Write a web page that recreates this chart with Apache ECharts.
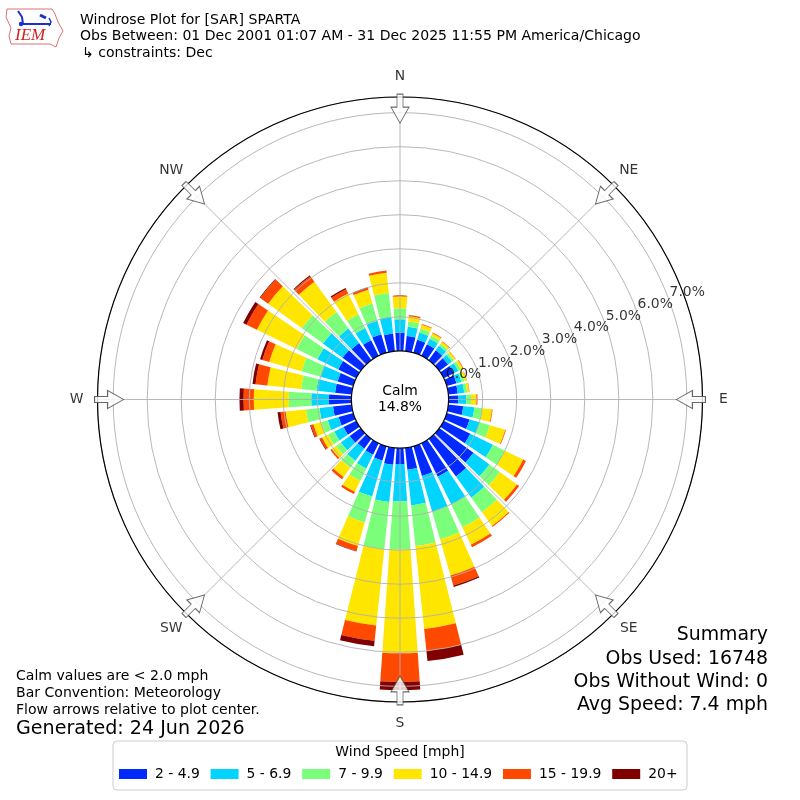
<!DOCTYPE html>
<html><head><meta charset="utf-8">
<script src="https://cdn.jsdelivr.net/npm/echarts@6/dist/echarts.min.js"></script>
<style>html,body{margin:0;padding:0;background:#fff}#c{width:800px;height:800px}</style>
</head><body><div id="c"></div>
<script>
// ---------- data ----------
const directions = [0,10,20,30,40,50,60,70,80,90,100,110,120,130,140,150,160,170,180,190,200,210,220,230,240,250,260,270,280,290,300,310,320,330,340,350];
const speedBins = ['2 - 4.9','5 - 6.9','7 - 9.9','10 - 14.9','15 - 19.9','20+'];
const speedColors = ['#002aff','#00d4ff','#7bff7b','#ffe600','#ff4800','#800000'];
const pct2to5   = [0.54,0.45,0.40,0.38,0.36,0.32,0.33,0.30,0.28,0.28,0.44,0.70,0.87,1.24,1.37,1.10,0.91,0.65,0.47,0.50,0.44,0.38,0.36,0.40,0.42,0.45,0.55,0.66,0.49,0.48,0.59,0.66,0.62,0.51,0.57,0.52];
const pct5to7   = [0.39,0.27,0.22,0.18,0.16,0.14,0.15,0.15,0.19,0.24,0.33,0.31,0.74,0.58,0.77,0.90,1.09,1.05,1.09,1.10,1.10,0.45,0.44,0.32,0.30,0.33,0.40,0.52,0.55,0.52,0.68,0.71,0.53,0.40,0.41,0.50];
const pct7to10  = [0.32,0.16,0.12,0.10,0.08,0.07,0.08,0.09,0.09,0.14,0.24,0.31,0.39,0.38,0.53,0.75,0.85,1.20,1.42,1.40,0.79,0.40,0.25,0.18,0.20,0.20,0.40,0.66,0.45,0.58,0.68,0.77,0.60,0.45,0.53,0.70];
const pct10to15 = [0.35,0.15,0.12,0.08,0.07,0.06,0.07,0.07,0.06,0.16,0.28,0.47,0.60,0.62,0.50,0.57,1.10,2.45,3.05,2.25,0.72,0.36,0.34,0.15,0.20,0.24,0.60,1.03,1.00,0.99,1.30,1.22,1.10,0.68,0.42,0.60];
const pct15to20 = [0.03,0.04,0.02,0.02,0.02,0.01,0.02,0.01,0.01,0.03,0.02,0.02,0.09,0.08,0.03,0.08,0.31,0.65,0.84,0.45,0.15,0.07,0.08,0.05,0.07,0.08,0.15,0.30,0.35,0.21,0.34,0.29,0.20,0.14,0.05,0.06];
const pct20up   = [0,0,0,0,0,0,0,0,0,0,0,0,0,0,0,0,0.04,0.30,0.24,0.16,0.02,0,0,0,0.02,0.02,0.09,0.12,0.09,0.07,0.11,0.02,0.03,0.04,0.02,0];
const seriesValues = [pct2to5, pct5to7, pct7to10, pct10to15, pct15to20, pct20up];
const calmPct = 14.8;
const radialTicks = [0,1,2,3,4,5,6,7];
const compassNames = ['N','NE','E','SE','S','SW','W','NW'];
const compassAngles = [0,45,90,135,180,225,270,315];
const titleLines = ['Windrose Plot for [SAR] SPARTA','Obs Between: 01 Dec 2001 01:07 AM - 31 Dec 2025 11:55 PM America/Chicago','\u21b3 constraints: Dec'];
const noteLines = ['Calm values are < 2.0 mph','Bar Convention: Meteorology','Flow arrows relative to plot center.'];
const generatedText = 'Generated: 24 Jun 2026';
const summaryLines = ['Summary','Obs Used: 16748','Obs Without Wind: 0','Avg Speed: 7.4 mph'];
const legendTitle = 'Wind Speed [mph]';

// ---------- layout ----------
const CX = 400, CY = 399.5, R_IN = 48.6, R_OUT = 302.5, RMAX = 7.46;
const FONT = '"DejaVu Sans", sans-serif';
const GRID = '#b0b0b0';
const ARROW_POS = 7.12, RLABEL_ANGLE = 69.8;
const arrowPath = 'path://M9,0 L18,16 L12,16 L12,29 L6,29 L6,16 L0,16 Z';

const chart = echarts.init(document.getElementById('c'), null, {renderer: 'canvas'});

function txt(text, x, y, size, align, extra) {
  return Object.assign({
    type: 'text', z: 30,
    style: {text: text, x: x, y: y, font: size + 'px ' + FONT, fill: '#000',
            align: align, textAlign: align, verticalAlign: 'middle', textVerticalAlign: 'middle'}
  }, extra || {});
}

const graphics = [
  // logo
  {type: 'polygon', z: 30, shape: {points: [[7,9],[52,9],[55,14],[58,22],[63,31],[59,38],[56,47],[50,44],[11,44],[9,36],[11,28],[6,17]]},
   style: {fill: 'none', stroke: '#e07070', lineWidth: 1}},
  {type: 'polyline', z: 30, shape: {points: [[18,11],[22,17],[23,24]]}, style: {stroke: '#1a2fd0', lineWidth: 2, fill: 'none'}},
  {type: 'line', z: 30, shape: {x1: 23, y1: 24, x2: 51, y2: 24}, style: {stroke: '#1a2fd0', lineWidth: 2}},
  {type: 'line', z: 30, shape: {x1: 40, y1: 15, x2: 46, y2: 18}, style: {stroke: '#1a2fd0', lineWidth: 3}},
  {type: 'circle', z: 30, shape: {cx: 21, cy: 24, r: 2.2}, style: {fill: '#1a2fd0'}},
  {type: 'polyline', z: 30, shape: {points: [[49,18],[51,22],[49,26]]}, style: {stroke: '#1a2fd0', lineWidth: 1.5, fill: 'none'}},
  {type: 'text', z: 30, style: {text: 'IEM', x: 15, y: 36, font: 'italic 17px "Liberation Serif", serif', fill: '#d02020', align: 'left', verticalAlign: 'middle'}},
  // frame circles
  {type: 'circle', z: 8, shape: {cx: CX, cy: CY, r: R_OUT}, style: {fill: 'none', stroke: '#000', lineWidth: 1.2}},
  {type: 'circle', z: 8, shape: {cx: CX, cy: CY, r: R_IN}, style: {fill: '#fff', stroke: '#000', lineWidth: 1.2}},
  txt('Calm', CX, 391, 13.9, 'center'),
  txt(calmPct.toFixed(1) + '%', CX, 407, 13.9, 'center'),
  // legend box
  {type: 'rect', z: 0, shape: {x: 113, y: 741, width: 574, height: 49, r: 4}, style: {fill: '#fff', stroke: '#cccccc', lineWidth: 1}},
  txt(legendTitle, 400, 752, 13.9, 'center')
];
titleLines.forEach((t, i) => graphics.push(txt(t, i === 2 ? 82 : 80, [20, 36.5, 53][i], 14.05, 'left')));
noteLines.forEach((t, i) => graphics.push(txt(t, 16, [676, 693, 710][i], 14.05, 'left')));
graphics.push(txt(generatedText, 16, 729, 19.1, 'left'));
summaryLines.forEach((t, i) => graphics.push(txt(t, 768, [635, 659, 682, 705][i], 18.9, 'right')));

const barSeries = speedBins.map((name, i) => ({
  name: name, type: 'bar', coordinateSystem: 'polar', polarIndex: 1, stack: 'wind',
  data: seriesValues[i], barCategoryGap: '20%', z: 2,
  itemStyle: {color: speedColors[i], borderWidth: 0},
  emphasis: {disabled: true}, silent: true, animation: false
}));

const option = {
  backgroundColor: '#fff',
  animation: false,
  polar: [
    {center: [CX, CY], radius: [R_IN, R_OUT]},
    {center: [CX, CY], radius: [R_IN, R_OUT]}
  ],
  angleAxis: [
    {polarIndex: 0, type: 'value', min: 0, max: 360, interval: 45, startAngle: 90, clockwise: true, z: 5,
     axisLine: {show: false}, axisTick: {show: false}, axisLabel: {show: false},
     splitLine: {show: true, lineStyle: {color: GRID, width: 0.9}}},
    {polarIndex: 1, type: 'category', data: directions, startAngle: 95, clockwise: true, boundaryGap: true,
     axisLine: {show: false}, axisTick: {show: false}, axisLabel: {show: false},
     splitLine: {show: false}, splitArea: {show: false}}
  ],
  radiusAxis: [
    {polarIndex: 0, type: 'value', min: 0, max: RMAX, interval: 1, z: 5,
     axisLine: {show: false}, axisTick: {show: false}, axisLabel: {show: false},
     splitLine: {show: true, lineStyle: {color: GRID, width: 0.9}}},
    {polarIndex: 1, type: 'value', min: 0, max: RMAX,
     axisLine: {show: false}, axisTick: {show: false}, axisLabel: {show: false},
     splitLine: {show: false}, splitArea: {show: false}}
  ],
  legend: {
    data: speedBins, left: 119, top: 767, padding: 0, itemWidth: 28, itemHeight: 10, itemGap: 10.8,
    icon: 'rect', selectedMode: false,
    textStyle: {fontSize: 13.9, fontFamily: FONT, color: '#000', padding: [0, 0, 0, 3]}
  },
  graphic: graphics,
  series: barSeries.concat([
    {type: 'scatter', coordinateSystem: 'polar', polarIndex: 0, z: 20, silent: true,
     data: compassAngles.map(a => ({value: [ARROW_POS, a], symbolRotate: 180 - a})),
     symbol: arrowPath, symbolSize: [18, 29], symbolKeepAspect: false,
     itemStyle: {color: '#fff', borderColor: '#444', borderWidth: 1}},
    {type: 'scatter', coordinateSystem: 'polar', polarIndex: 0, z: 21, silent: true,
     data: compassAngles.map((a, i) => ({value: [RMAX, a], name: compassNames[i],
       label: {offset: [21 * Math.sin(a * Math.PI / 180), -21 * Math.cos(a * Math.PI / 180)]}})),
     symbol: 'circle', symbolSize: 1, itemStyle: {color: 'rgba(0,0,0,0)'},
     label: {show: true, position: 'inside', formatter: p => p.name, fontSize: 13.9, fontFamily: FONT, color: '#000'}},
    {type: 'scatter', coordinateSystem: 'polar', polarIndex: 0, z: 21, silent: true,
     data: radialTicks.map(k => [k, RLABEL_ANGLE]),
     symbol: 'circle', symbolSize: 1, itemStyle: {color: 'rgba(0,0,0,0)'},
     label: {show: true, position: 'inside', offset: [18, -8], formatter: p => p.value[0].toFixed(1) + '%',
             fontSize: 13.9, fontFamily: FONT, color: '#000'}}
  ])
};
chart.setOption(option);
</script>
</body></html>
